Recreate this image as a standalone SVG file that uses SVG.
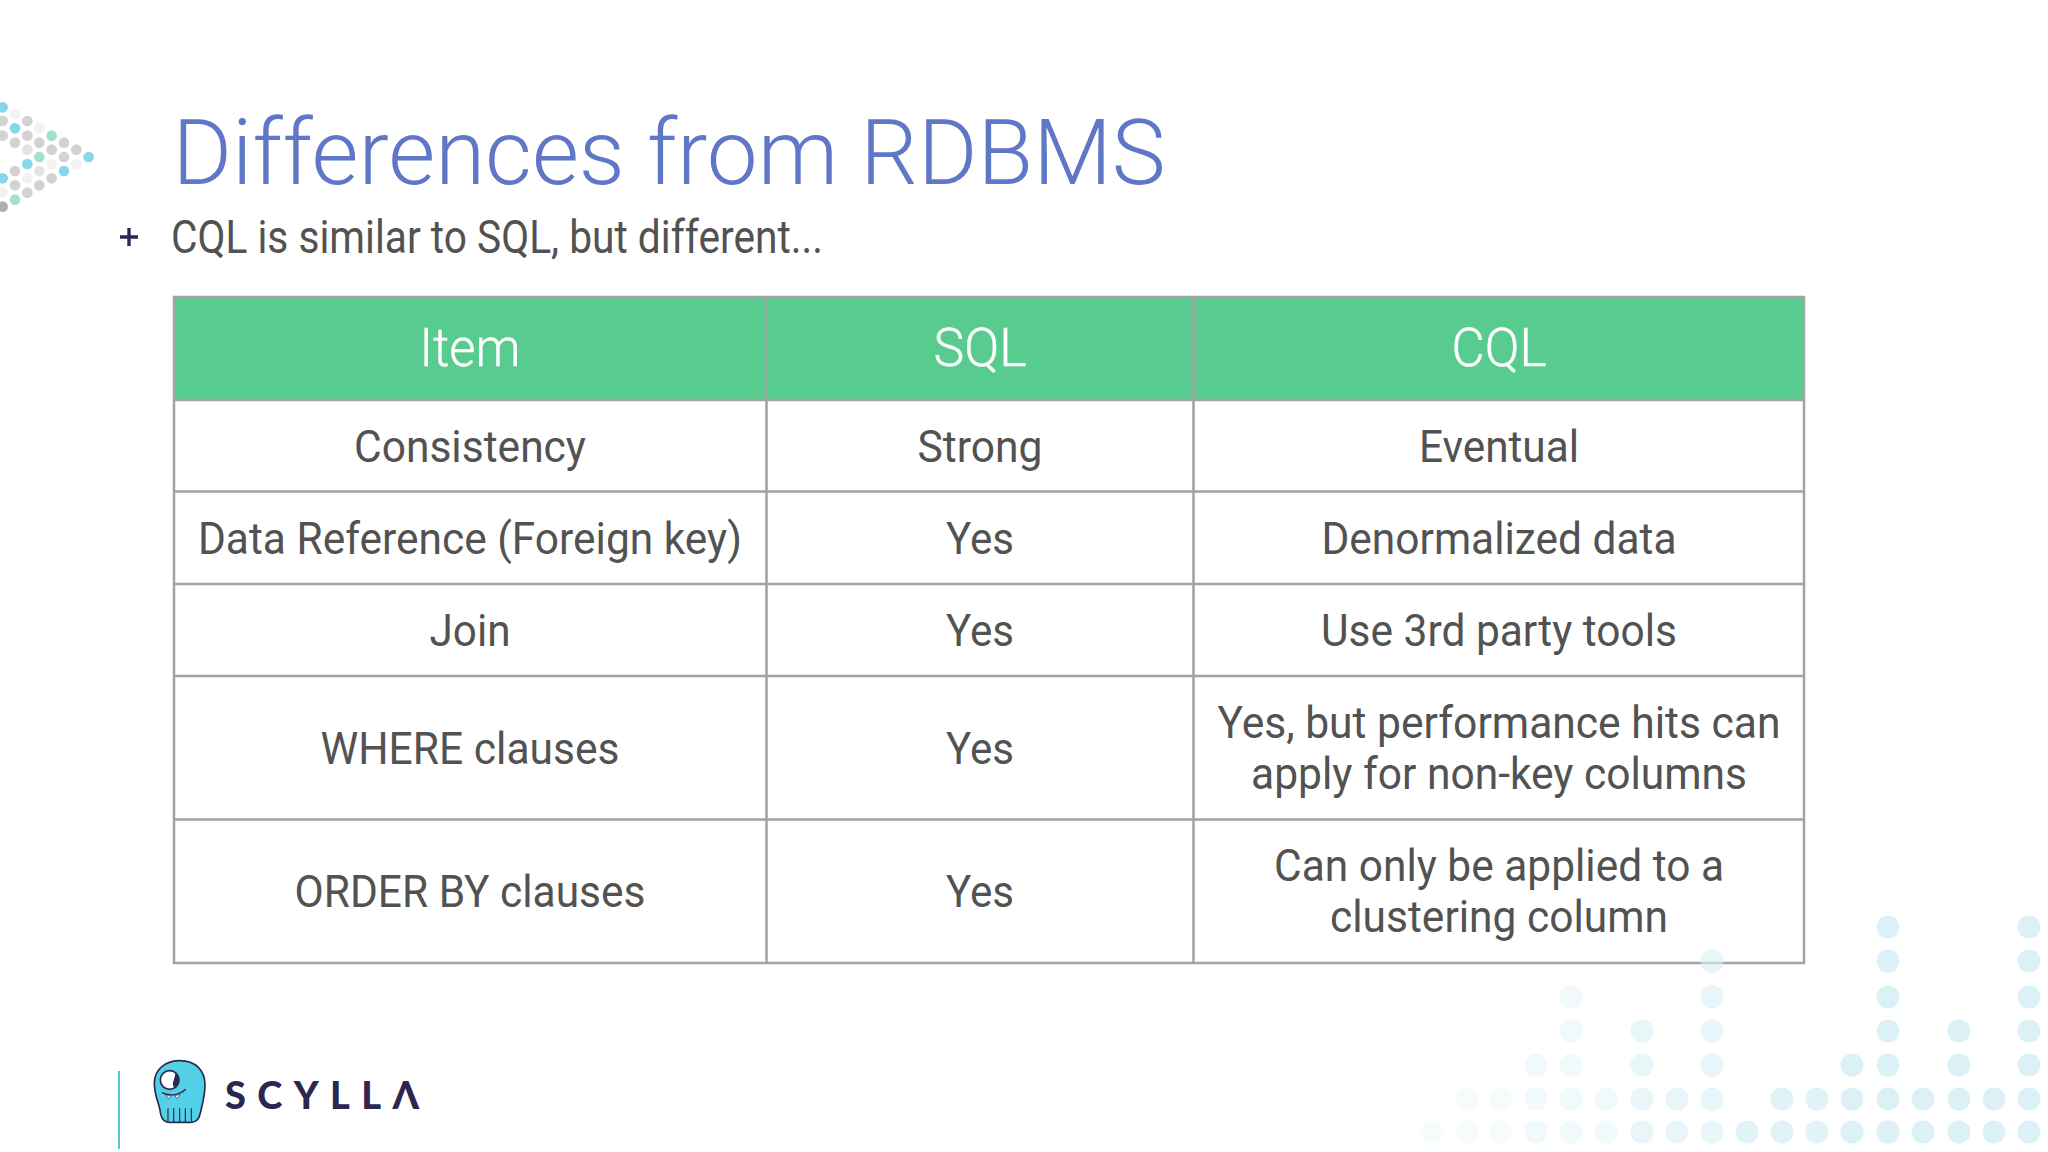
<svg xmlns="http://www.w3.org/2000/svg" width="2048" height="1152" viewBox="0 0 2048 1152">
<style>
text{font-family:Roboto,"Liberation Sans",sans-serif}
.c{font-size:45px;fill:#525252;text-anchor:middle}
.h{font-size:53px;font-weight:300;fill:#fff;text-anchor:middle;stroke:#fff;stroke-width:.4px}
.g{fill:#d2d2d2}.v{fill:#f2f2f2}.l{fill:#e4e4e4}.t{fill:#86d6ec}.n{fill:#a3e2ca}
.b{fill:#dbf1f6}
.line{stroke:#a3a3a3;stroke-width:2.5;fill:none}
</style>
<rect width="2048" height="1152" fill="#fff"/>
<g id="corner-dots">
<g transform="translate(0,80) scale(.3333)">
<g>
<circle class="t" cx="8" cy="82" r="16"/><circle class="v" cx="45" cy="102" r="16"/><circle class="g" cx="8" cy="123" r="16"/><circle class="g" cx="82" cy="123" r="16"/><circle class="t" cx="45" cy="145" r="16"/><circle class="v" cx="118" cy="145" r="16"/><circle class="g" cx="8" cy="167" r="16"/><circle class="g" cx="82" cy="167" r="16"/><circle class="n" cx="155" cy="167" r="16"/><circle class="g" cx="45" cy="188" r="16"/><circle class="g" cx="118" cy="188" r="16"/><circle class="g" cx="192" cy="188" r="16"/><circle class="l" cx="82" cy="209" r="16"/><circle class="g" cx="155" cy="209" r="16"/><circle class="g" cx="229" cy="209" r="16"/><circle class="n" cx="118" cy="231" r="16"/><circle class="g" cx="192" cy="231" r="16"/><circle class="t" cx="266" cy="231" r="16"/><circle class="t" cx="82" cy="252" r="16"/><circle class="v" cx="155" cy="252" r="16"/><circle class="v" cx="229" cy="252" r="16"/><circle class="g" cx="45" cy="273" r="16"/><circle class="l" cx="118" cy="273" r="16"/><circle class="t" cx="192" cy="273" r="16"/><circle class="t" cx="8" cy="295" r="16"/><circle class="v" cx="82" cy="295" r="16"/><circle class="g" cx="155" cy="295" r="16"/><circle class="g" cx="45" cy="316" r="16"/><circle class="g" cx="118" cy="316" r="16"/><circle class="v" cx="8" cy="338" r="16"/><circle class="g" cx="82" cy="338" r="16"/><circle class="n" cx="45" cy="359" r="16"/><circle cx="8" cy="380" r="16" fill="#b0b0b0"/>
</g>
</g>
</g>
<text id="title" x="172.500" y="184" font-size="90" font-weight="300" fill="#5f77c6" textLength="993" lengthAdjust="spacingAndGlyphs">Differences from RDBMS</text>
<g id="bullet">
<path d="M120 237H138M129 228V246" stroke="#2c2650" stroke-width="3.400" fill="none"/>
<text x="171" y="253" font-size="46" fill="#525252" textLength="652" lengthAdjust="spacingAndGlyphs">CQL is similar to SQL, but different...</text>
</g>
<g id="table">
<rect x="174" y="297" width="1630" height="103" fill="#58cc8f"/>
<g class="line">
<rect x="174" y="297" width="1630" height="666"/>
<path d="M174 400H1804M174 491.500H1804M174 584H1804M174 676H1804M174 819.500H1804M766.500 297V963M1193.500 297V963"/>
</g>
<g id="header-row">
<text class="h" x="470" y="366" textLength="101" lengthAdjust="spacingAndGlyphs">Item</text>
<text class="h" x="980" y="366" textLength="93" lengthAdjust="spacingAndGlyphs">SQL</text>
<text class="h" x="1499" y="366" textLength="95" lengthAdjust="spacingAndGlyphs">CQL</text>
</g>
<g id="row-consistency">
<text class="c" x="470" y="462" textLength="232" lengthAdjust="spacingAndGlyphs">Consistency</text>
<text class="c" x="980" y="462" textLength="125" lengthAdjust="spacingAndGlyphs">Strong</text>
<text class="c" x="1499" y="462" textLength="160" lengthAdjust="spacingAndGlyphs">Eventual</text>
</g>
<g id="row-reference">
<text class="c" x="470" y="554" textLength="544" lengthAdjust="spacingAndGlyphs">Data Reference (Foreign key)</text>
<text class="c" x="980" y="554" textLength="68" lengthAdjust="spacingAndGlyphs">Yes</text>
<text class="c" x="1499" y="554" textLength="355" lengthAdjust="spacingAndGlyphs">Denormalized data</text>
</g>
<g id="row-join">
<text class="c" x="470" y="646" textLength="81" lengthAdjust="spacingAndGlyphs">Join</text>
<text class="c" x="980" y="646" textLength="68" lengthAdjust="spacingAndGlyphs">Yes</text>
<text class="c" x="1499" y="646" textLength="356" lengthAdjust="spacingAndGlyphs">Use 3rd party tools</text>
</g>
<g id="row-where">
<text class="c" x="470" y="764" textLength="299" lengthAdjust="spacingAndGlyphs">WHERE clauses</text>
<text class="c" x="980" y="764" textLength="68" lengthAdjust="spacingAndGlyphs">Yes</text>
<text class="c" x="1499" y="738" textLength="563" lengthAdjust="spacingAndGlyphs">Yes, but performance hits can</text>
<text class="c" x="1499" y="789" textLength="496" lengthAdjust="spacingAndGlyphs">apply for non-key columns</text>
</g>
<g id="row-order">
<text class="c" x="470" y="907" textLength="351" lengthAdjust="spacingAndGlyphs">ORDER BY clauses</text>
<text class="c" x="980" y="907" textLength="68" lengthAdjust="spacingAndGlyphs">Yes</text>
<text class="c" x="1499" y="881" textLength="450" lengthAdjust="spacingAndGlyphs">Can only be applied to a</text>
<text class="c" x="1499" y="932" textLength="338" lengthAdjust="spacingAndGlyphs">clustering column</text>
</g>
</g>
<g id="bar-dots" class="b">
<g opacity=".22"><circle cx="1432" cy="1132" r="11.500"/><circle cx="1467" cy="1132" r="11.500"/><circle cx="1501" cy="1132" r="11.500"/><circle cx="1467" cy="1099" r="11.500"/><circle cx="1501" cy="1099" r="11.500"/></g>
<g opacity=".4"><circle cx="1536" cy="1132" r="11.500"/><circle cx="1571" cy="1132" r="11.500"/><circle cx="1606" cy="1132" r="11.500"/><circle cx="1536" cy="1099" r="11.500"/><circle cx="1571" cy="1099" r="11.500"/><circle cx="1606" cy="1099" r="11.500"/><circle cx="1536" cy="1065" r="11.500"/><circle cx="1571" cy="1065" r="11.500"/><circle cx="1571" cy="1031" r="11.500"/><circle cx="1571" cy="997" r="11.500"/></g>
<g opacity=".6"><circle cx="1642" cy="1132" r="11.500"/><circle cx="1677" cy="1132" r="11.500"/><circle cx="1712" cy="1132" r="11.500"/><circle cx="1642" cy="1099" r="11.500"/><circle cx="1677" cy="1099" r="11.500"/><circle cx="1712" cy="1099" r="11.500"/><circle cx="1642" cy="1065" r="11.500"/><circle cx="1712" cy="1065" r="11.500"/><circle cx="1642" cy="1031" r="11.500"/><circle cx="1712" cy="1031" r="11.500"/><circle cx="1712" cy="997" r="11.500"/><circle cx="1712" cy="961" r="11.500"/></g>
<g opacity=".85"><circle cx="1747" cy="1132" r="11.500"/><circle cx="1782" cy="1132" r="11.500"/><circle cx="1817" cy="1132" r="11.500"/><circle cx="1782" cy="1099" r="11.500"/><circle cx="1817" cy="1099" r="11.500"/></g>
<g><circle cx="1852" cy="1132" r="11.500"/><circle cx="1888" cy="1132" r="11.500"/><circle cx="1923" cy="1132" r="11.500"/><circle cx="1959" cy="1132" r="11.500"/><circle cx="1994" cy="1132" r="11.500"/><circle cx="2029" cy="1132" r="11.500"/><circle cx="1852" cy="1099" r="11.500"/><circle cx="1888" cy="1099" r="11.500"/><circle cx="1923" cy="1099" r="11.500"/><circle cx="1959" cy="1099" r="11.500"/><circle cx="1994" cy="1099" r="11.500"/><circle cx="2029" cy="1099" r="11.500"/><circle cx="1852" cy="1065" r="11.500"/><circle cx="1888" cy="1065" r="11.500"/><circle cx="1959" cy="1065" r="11.500"/><circle cx="2029" cy="1065" r="11.500"/><circle cx="1888" cy="1031" r="11.500"/><circle cx="1959" cy="1031" r="11.500"/><circle cx="2029" cy="1031" r="11.500"/><circle cx="1888" cy="997" r="11.500"/><circle cx="2029" cy="997" r="11.500"/><circle cx="1888" cy="961" r="11.500"/><circle cx="2029" cy="961" r="11.500"/><circle cx="1888" cy="927" r="11.500"/><circle cx="2029" cy="927" r="11.500"/></g>
</g>
<g id="logo">
<rect x="118" y="1071" width="2" height="78" fill="#5cc1de"/>
<g transform="translate(100,1040) scale(.3333)">
<path d="M163 130C163 85 200 62 240 62C285 62 315 90 315 135C315 165 308 190 302 215C298 235 292 247 270 247L210 247C190 247 183 235 180 210C175 185 163 165 163 130Z" fill="#53cfe6" stroke="#2a2a50" stroke-width="5"/>
<circle cx="209" cy="120" r="28" fill="#fff" stroke="#2a2a50" stroke-width="5"/>
<path d="M226 100C240 105 240 135 224 142C212 135 224 120 226 100Z" fill="#2a2a50"/>
<path d="M186 158C210 170 240 165 257 148" fill="none" stroke="#2a2a50" stroke-width="4"/>
<path d="M198 165L205 176L213 167ZM224 167L232 176L240 163Z" fill="#fff" stroke="#2a2a50" stroke-width="2"/>
<path d="M204 205V244M221 205V246M239 205V246M256 205V246M274 205V244" fill="none" stroke="#2a2a50" stroke-width="3.500"/>
</g>
<text x="225" y="1109" font-size="38" font-weight="900" fill="#2c2650" style="font-family:Lato,'Liberation Sans',sans-serif" textLength="194" lengthAdjust="spacing">SCYLLΛ</text>
</g>
</svg>
